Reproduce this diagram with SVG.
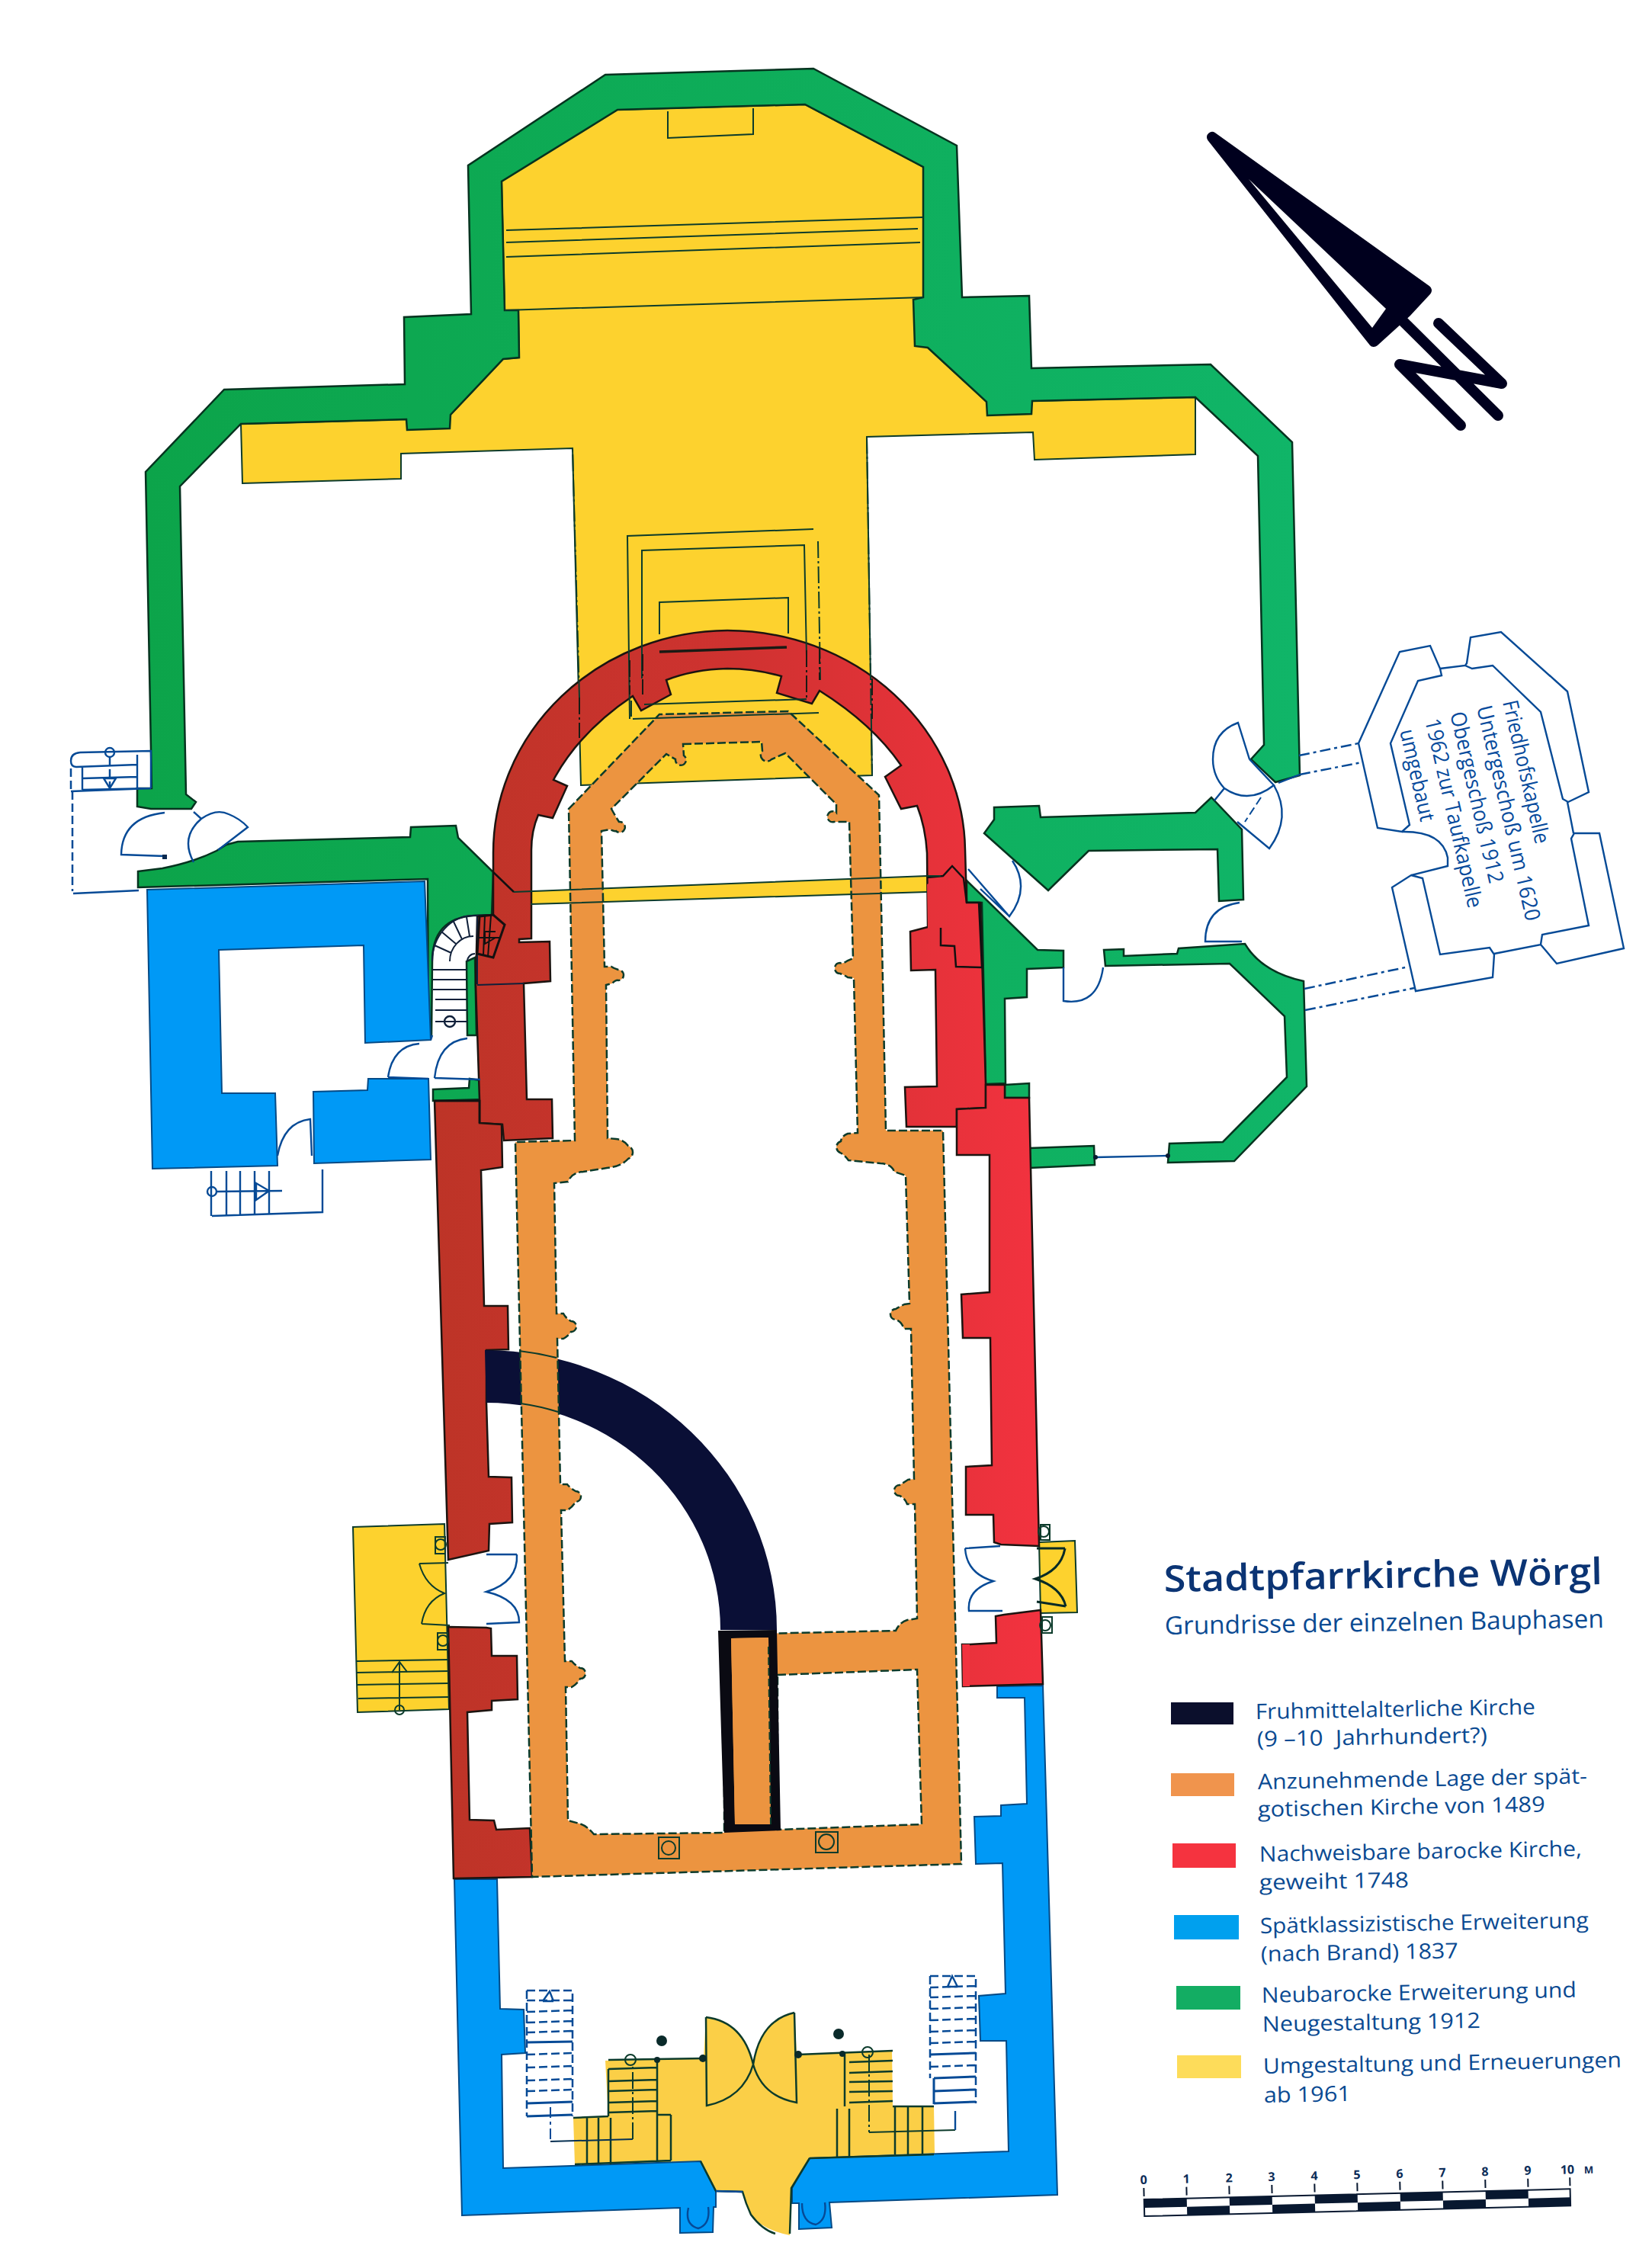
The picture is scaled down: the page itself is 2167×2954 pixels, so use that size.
<svg xmlns="http://www.w3.org/2000/svg" width="2167" height="2954" viewBox="0 0 2167 2954">
<style>
.k{fill:none;stroke:#0c3b2b;stroke-width:2}
.kd{fill:none;stroke:#0c3b2b;stroke-width:2;stroke-dasharray:22 4 3 4}
.kb{fill:none;stroke:#062a26;stroke-width:3}
.b{fill:none;stroke:#064a96;stroke-width:2.4}
.bd{fill:none;stroke:#064a96;stroke-width:2.5;stroke-dasharray:11 5}
.bdd{fill:none;stroke:#064a96;stroke-width:2.5;stroke-dasharray:14 5 4 5}
.wall-y{fill:#fdd22e;stroke:#0c3b2b;stroke-width:2}
.wall-g{fill:url(#gg);stroke:#06331f;stroke-width:2.5}
.wall-r{fill:url(#gr);stroke:#1c1410;stroke-width:2.5}
.wall-b{fill:#0099f6;stroke:#034a86;stroke-width:2}
.t{font-family:"Open Sans","Noto Sans",sans-serif;fill:#0a4a92;font-size:28px}
.c{font-family:"Open Sans","Noto Sans",sans-serif;fill:#064a9c;font-size:28px}
.n{font-family:"Open Sans","Noto Sans",sans-serif;fill:#0b2c58;font-size:16px;font-weight:700;text-anchor:middle}
</style>
<defs>
<linearGradient id="gr" gradientUnits="userSpaceOnUse" x1="570" y1="0" x2="1360" y2="0"><stop offset="0" stop-color="#bd3427"/><stop offset="0.5" stop-color="#cf3230"/><stop offset="1" stop-color="#f2323f"/></linearGradient>
<linearGradient id="gg" gradientUnits="userSpaceOnUse" x1="190" y1="0" x2="1700" y2="0"><stop offset="0" stop-color="#0ca44a"/><stop offset="1" stop-color="#10b568"/></linearGradient>
</defs>
<rect width="2167" height="2954" fill="#fff"/>

<g id="phase-1961-yellow">
<path class="wall-y" d="M316 556L318 634L526 628L526 595L751 588L762 1030L1144 1017L1137 573L1355 567L1357 603L1568 596L1568 521L1354 526L1294 527L1217 456L1211 219L1056 137L810 144L658 238L662 407L680 407L681 469L660 471L591 544L533 550Z"/>
<path d="M696 1169L1234 1149L1216 1170L696 1186Z" fill="#fdd22e"/>
<path class="wall-y" d="M463 2003L583 1999L589 2242L469 2246Z"/>
<path d="M1363 2023L1410 2021L1413 2115L1365 2116Z" class="wall-y" fill="#fbd050"/>
<path d="M923 2700L926 2646Q975 2652 988 2708Q997 2650 1042 2640L1045 2695L1108 2693L1170 2690L1171 2763L1225 2763L1226 2826L1062 2831L1038 2870L1036 2932Q1000 2925 985 2905Q978 2890 974 2875L939 2874L919 2835L754 2839L752 2778L798 2776L794 2703Z" fill="#fbcf47"/>
</g>

<g id="phase-1912-green">
<path class="wall-g" d="M199 1034L180 1034L180 1058L198 1061L251 1061L257 1052L244 1042L236 638L316 556L533 550L534 564L590 562L591 544L660 471L681 469L680 407L662 407L658 238L810 144L1056 137L1211 219L1211 390L1198 393L1200 454L1217 456L1294 527L1295 545L1353 543L1354 526L1568 521L1650 598L1658 977L1641 996L1673 1026L1705 1017L1695 580L1588 478L1353 483L1350 388L1262 390L1255 191L1067 90L794 98L614 217L618 412L530 416L531 504L294 511L191 619Z"/>
<path class="wall-g" d="M181 1143L213 1139Q254 1131 284 1116L297 1108L312 1104L538 1098L539 1085L598 1083L601 1099L647 1144L645 1200L621 1201Q567 1205 567 1261L566 1358L562 1358L561 1153L181 1164Z"/>
<path class="wall-g" d="M612 1261L613 1358L625 1358L623 1256Z"/>
<path class="wall-g" d="M568 1429L615 1427L616 1415L630 1417L634 1442L568 1444Z"/>
<path class="wall-g" d="M1304 1059L1363 1057L1365 1072L1568 1066L1589 1046L1629 1088L1631 1180L1599 1182L1597 1114L1428 1116L1375 1168L1291 1093L1304 1075Z"/>
<path class="wall-g" d="M1268 1155L1361 1246L1395 1247L1395 1269L1347 1271L1347 1308L1318 1310L1319 1421L1293 1422L1288 1184L1268 1184Z"/>
<path class="wall-g" d="M1448 1246L1474 1245L1474 1254L1544 1251L1546 1244L1633 1238Q1655 1275 1710 1287L1714 1425L1619 1523L1532 1525L1534 1500L1604 1498L1688 1413L1685 1333L1613 1264L1450 1267Z"/>
<path class="wall-g" d="M1350 1506L1435 1503L1436 1528L1351 1532Z"/>
<path class="wall-g" d="M1318 1423L1350 1421L1350 1440L1318 1440Z"/>
</g>

<g id="phase-1837-blue">
<path class="wall-b" d="M193 1167L557 1156L565 1364L479 1368L477 1240L287 1246L291 1434L361 1434L364 1529L200 1533Z"/>
<path class="wall-b" d="M411 1432L482 1430L483 1415L562 1415L565 1521L412 1526Z"/>
<path class="wall-b" d="M596 2465L652 2465L656 2635L687 2636L689 2693L658 2695L660 2844L919 2835L939 2874L939 2895L936 2895L935 2928L892 2929L892 2896L606 2906Z"/>
<path class="wall-b" d="M1308 2212L1308 2227L1344 2227L1347 2366L1313 2368L1313 2382L1278 2383L1280 2445L1315 2444L1319 2615L1284 2618L1286 2677L1320 2677L1323 2822L1062 2831L1039 2870L1039 2890L1048 2890L1048 2924L1091 2922L1088 2889L1387 2879L1368 2211Z"/>
</g>

<g id="phase-1748-red">
<path class="wall-r" d="M629 1473L629 1442L624 1292L626 1202L647 1200L647 1119A309 292 0 0 1 954 827A312 292 0 0 1 1266 1115L1268 1184L1286 1184L1293 1423L1293 1453L1255 1455L1255 1478L1189 1478L1187 1426L1229 1425L1227 1272L1195 1273L1194 1222L1217 1216L1216 1119Q1214 1085 1203 1057L1182 1061L1161 1019L1182 1004Q1145 950 1075 906L1065 923L1019 909L1025 887Q990 877 954 877Q910 878 874 892L880 911L841 932L830 913Q760 960 726 1023L744 1031L725 1073L706 1069Q697 1090 697 1115L697 1231L681 1232L681 1236L721 1235L722 1287L687 1290L691 1442L724 1442L725 1493L661 1496L659 1475Z"/>
<path class="wall-r" d="M570 1444L629 1444L629 1473L658 1475L659 1531L631 1535L635 1713L666 1713L667 1770L638 1771L638 1840L641 1937L671 1938L672 1997L642 1999L641 2034L588 2046L570 1444Z"/>
<path class="wall-r" d="M588 2134L638 2135L644 2136L645 2172L678 2172L679 2229L645 2231L645 2243L613 2246L616 2387L648 2388L651 2400L695 2398L698 2462L595 2464Z"/>
<path class="wall-r" d="M1293 1423L1318 1423L1318 1440L1350 1440L1363 2028L1313 2026L1304 2023L1303 1987L1267 1987L1267 1924L1301 1922L1299 1755L1263 1755L1261 1698L1298 1695L1298 1515L1255 1515L1255 1455L1293 1453Z"/>
<path class="wall-r" d="M1306 2120L1317 2118L1365 2112L1368 2209L1263 2212L1262 2157L1272 2157L1307 2155Z"/>
<path d="M1262 2157L1272 2157L1272 2212L1263 2212Z" fill="#f2323f"/>
<path d="M1216 1160L1237 1149L1249 1136L1266 1152L1266 1184L1284 1184L1288 1269L1254 1268L1252 1241L1234 1240L1234 1217L1217 1218Z" fill="url(#gr)"/>
<path class="k" style="stroke:#111;stroke-width:2.5" d="M1216 1151L1237 1149L1249 1136L1264 1152L1268 1184L1284 1184L1288 1269L1254 1268L1252 1241L1234 1240L1234 1217M674 1170L647 1144M629 1473L629 1444L570 1444"/>
</g>

<g id="phase-early-black">
<path d="M636 1771A383 367 0 0 1 1019 2138L945 2138A307 298 0 0 0 638 1840Z" fill="#0a0f36"/>
</g>

<g id="phase-1489-orange">
<path fill="#ec9440" fill-rule="evenodd" stroke="#0c3b2b" stroke-width="2.5" stroke-dasharray="11 4" d="M746 1061L865 937L1034 933L1153 1043L1162 1483L1237 1483L1261 2445L698 2462L676 1498L754 1496Z
M896 976L999 973L1000 985A7 7 0 1 0 1012 996L1030 988L1097 1055L1097 1066A7 7 0 1 0 1094 1078L1114 1078L1119 1257L1112 1260Q1105 1265 1102 1263A7 7 0 1 0 1102 1277Q1108 1279 1112 1282L1120 1283L1125 1486L1112 1487Q1104 1490 1103 1497A8 8 0 0 0 1102 1512Q1108 1515 1113 1522L1155 1526Q1170 1527 1173 1537L1188 1542L1193 1710L1186 1711Q1180 1714 1175 1717A7 7 0 1 0 1175 1731Q1182 1733 1186 1743L1195 1743L1199 1940L1191 1941Q1185 1945 1180 1948A7 7 0 1 0 1180 1962Q1187 1965 1190 1973L1200 1973L1203 2123L1190 2125Q1180 2128 1175 2139L950 2144L950 2404L779 2406Q770 2395 760 2392L745 2388L742 2213L750 2213Q757 2209 761 2202A7 7 0 1 0 761 2188Q754 2184 750 2179L741 2179L736 1981L744 1981Q751 1977 755 1970A7 7 0 1 0 755 1956Q748 1952 744 1947L735 1947L731 1756L739 1756Q746 1752 749 1747A7 7 0 1 0 749 1733Q742 1729 739 1723L730 1723L727 1552L745 1550Q750 1538 765 1537L796 1532Q815 1530 824 1520A9 9 0 0 0 824 1503Q818 1495 808 1494L797 1493L795 1292L803 1290Q808 1285 811 1286A7 7 0 1 0 811 1272Q805 1270 802 1268L793 1268L789 1090L800 1088Q806 1091 808 1090A7 7 0 1 0 812 1078Q808 1072 802 1061L874 989L886 996A7 7 0 1 0 897 991Z
M1020 2197L1203 2190L1209 2393L1020 2400Z"/>
</g>

<g id="phase-early-black-wall">
<path fill="#0a0a12" fill-rule="evenodd" d="M942 2139L1019 2138L1024 2401L950 2404ZM959 2149L1008 2148L1011 2393L964 2393Z"/>
<path fill="#ec9440" d="M959 2149L1008 2148L1011 2393L964 2393Z"/>
<path class="k" d="M681 1772A383 367 0 0 1 730 1781M683 1841A307 298 0 0 1 732 1852"/>
<path d="M1008 2160L1011 2393" class="k" stroke-dasharray="10 4"/>
</g>

<g id="details-yellow">
<path class="k" d="M664 302L1211 285M664 318L1204 300M664 337L1207 318M662 407L1211 390"/>
<path class="k" d="M876 146L876 181L988 176L988 142"/>
<path class="k" d="M826 943L823 703L1067 694M842 890L842 722L1055 715L1058 860M865 832L865 790L1034 784L1034 831"/>
<path class="kd" d="M1073 710L1076 892M1137 573L1144 1017M760 915L751 588"/>
<path class="k" d="M845 924L1058 917M830 943L1074 935M828 919L828 940"/>
<path class="k" style="stroke-width:3.5;stroke:#1a1a14" d="M865 855L1032 849"/>
<path class="kd" style="stroke:#1a1a14" d="M826 866L826 911M843 858L843 911M1058 853L1058 919M1075 849L1075 892M760 915L760 968M1144 890L1144 943"/>
<path class="k" d="M674 1170L1216 1149M696 1186L1216 1170M1216 1149L1234 1149"/>
<path class="k" d="M550 2051Q558 2080 583 2090Q558 2100 553 2130M550 2051L588 2050M553 2130L590 2132M468 2179L588 2177M468 2194L588 2192M468 2210L588 2208M470 2228L589 2226M524 2182L524 2243"/>
<path class="k" d="M514 2194L524 2180L534 2193"/>
<circle class="k" cx="524" cy="2243" r="6"/>
<g class="k"><rect x="571" y="2016" width="13" height="22"/><circle cx="578" cy="2026" r="7"/><rect x="574" y="2142" width="13" height="22"/><circle cx="581" cy="2152" r="7"/>
<rect x="1365" y="2000" width="12" height="20"/><circle cx="1369" cy="2009" r="7"/><rect x="1367" y="2121" width="13" height="21"/><circle cx="1371" cy="2132" r="7"/></g>
<path class="kb" d="M1397 2031Q1392 2060 1358 2071Q1392 2082 1398 2107M1360 2031L1397 2031M1360 2101L1398 2107"/>
<path class="b" d="M678 2039L638 2039M678 2039Q680 2075 638 2088Q681 2098 681 2128L638 2130"/>
<path class="b" d="M1266 2031L1312 2028M1266 2031Q1268 2064 1303 2074Q1268 2085 1271 2113L1315 2113"/>
<g class="k"><rect x="864" y="2410" width="27" height="28"/><circle cx="877" cy="2424" r="9"/><rect x="1070" y="2403" width="29" height="27"/><circle cx="1084" cy="2416" r="10"/></g>
</g>

<g id="details-south">
<g class="k" style="stroke-width:2.5">
<path d="M926 2646Q975 2652 988 2708Q975 2752 927 2762L926 2646M1042 2640Q997 2650 988 2708Q1000 2750 1045 2758L1042 2640"/>
<path d="M798 2702L923 2700M1047 2695L1171 2690M1108 2692L1108 2763M1098 2766L1098 2829M1114 2766L1114 2829M1174 2763L1174 2826M1191 2763L1191 2826M1210 2763L1210 2826M1171 2763L1225 2763"/>
<path d="M798 2714L862 2712M798 2730L862 2728M798 2743L862 2741M798 2758L862 2756M798 2771L862 2769M862 2702L862 2836M880 2774L880 2834M862 2774L880 2774M752 2778L798 2776M798 2714L798 2776M770 2778L770 2839M785 2778L785 2839M801 2778L801 2839M754 2839L880 2834"/>
<path d="M1114 2705L1171 2703M1114 2719L1171 2717M1114 2731L1171 2730M1114 2744L1171 2743M1114 2758L1171 2756"/>
<path d="M919 2835L939 2874L974 2875Q978 2890 985 2905Q1000 2925 1017 2930M1062 2831L1038 2870L1036 2930M1062 2831L1225 2826"/>
</g>
<circle cx="868" cy="2677" r="7" fill="#0a2a2a"/><circle cx="1100" cy="2668" r="7" fill="#0a2a2a"/>
<circle cx="862" cy="2702" r="4" fill="#0a2a2a"/><circle cx="922" cy="2700" r="5" fill="#0a2a2a"/><circle cx="1047" cy="2695" r="5" fill="#0a2a2a"/><circle cx="1105" cy="2694" r="4" fill="#0a2a2a"/>
<circle class="k" cx="827" cy="2702" r="7"/><circle class="k" cx="1138" cy="2692" r="7"/>
<path class="bd" d="M691 2611L751 2611L751 2776M691 2611L691 2776M691 2624L751 2624M691 2639L751 2637M691 2653L751 2651M691 2666L751 2664M691 2695L751 2693M691 2712L751 2710M691 2729L751 2727M691 2743L751 2741"/>
<path class="b" style="stroke-width:3" d="M691 2679L751 2678M691 2759L751 2757M691 2776L751 2774"/>
<path class="b" d="M712 2625L721 2612L726 2625M712 2625L726 2625"/>
<path class="bd" d="M1220 2592L1280 2592L1280 2759M1220 2592L1220 2726M1220 2607L1280 2605M1220 2620L1280 2618M1220 2635L1280 2633M1220 2650L1280 2648M1220 2665L1280 2663M1220 2680L1280 2678M1220 2711L1280 2709"/>
<path class="b" style="stroke-width:3" d="M1220 2695L1280 2693M1225 2726L1280 2724M1225 2743L1280 2741M1225 2759L1280 2757M1225 2726L1225 2760"/>
<path class="b" d="M1243 2606L1249 2592L1256 2606M1243 2606L1256 2606"/>
<path class="bdd" style="stroke-width:2" d="M722 2764L722 2809"/>
<path class="k" style="stroke:#063052" d="M722 2809L830 2806"/>
<path class="kd" d="M830 2806L830 2708M1140 2695L1140 2797"/>
<path class="k" d="M1140 2797L1253 2794"/>
<path class="b" d="M1253 2769L1253 2794"/>
<path class="b" d="M903 2896Q898 2918 916 2923Q932 2918 929 2895M1052 2890Q1052 2915 1070 2918Q1085 2912 1082 2889"/>
<path class="b" d="M939 2874L974 2875"/>
</g>

<g id="details-nw-stairs">
<path class="b" d="M105 987L198 985L198 1034M105 987Q93 988 93 998Q93 1006 100 1006L180 1003M108 1021L180 1019M108 1036L198 1034M93 1038L198 1034M180 990L180 1034M108 1006L108 1036"/>
<path class="bd" d="M93 1008L93 1038M95 1038L95 1169"/>
<path class="b" d="M96 1172L182 1168"/>
<path class="bd" d="M144 993L144 1033"/>
<circle class="b" cx="144" cy="987" r="6"/>
<path class="b" d="M136 1021L152 1021L144 1034Z"/>
<path class="b" d="M216 1066Q160 1072 159 1121L216 1123"/>
<rect x="213" y="1121" width="6" height="6" fill="#0a2a50"/>
<path class="b" d="M254 1065L264 1074M264 1074Q284 1060 300 1068Q315 1074 325 1085L286 1115M264 1074Q236 1098 254 1131"/>
<path class="b" d="M565 1364L567 1358"/>
<path class="b" d="M509 1413Q515 1372 550 1369M509 1413L562 1415M570 1414Q575 1366 613 1362M570 1414L630 1416"/>
<path class="b" d="M364 1516Q372 1472 407 1468L409 1516"/>
<path class="b" d="M277 1536L277 1595M297 1536L297 1594M315 1536L315 1594M334 1536L334 1593M353 1536L353 1593M278 1595L423 1590L423 1534"/>
<path class="b" d="M284 1563L370 1562M336 1552L336 1574L353 1562Z"/>
<circle class="b" cx="278" cy="1563" r="6"/>
</g>

<g id="details-spiral">
<path class="k" style="stroke:#10203a" d="M567 1261A54 60 0 0 1 621 1201L647 1200M590 1261A31 33 0 0 1 621 1228M613 1261A10 10 0 0 1 623 1251M570 1240L592 1250M579 1222L598 1238M595 1209L606 1232M612 1203L616 1228M567 1272L613 1272M568 1285L613 1285M568 1298L613 1298M571 1311L613 1311M571 1325L613 1325M571 1340L613 1340M626 1203L626 1291M626 1292L687 1290"/>
<path d="M629 1202L647 1200L662 1213L647 1256L626 1251Z" fill="#c43328" stroke="#151010" stroke-width="3"/>
<path class="k" style="stroke:#111" d="M636 1201L634 1253M644 1201L640 1255M628 1230L655 1230M650 1222L636 1222L636 1238L650 1230"/>
<circle class="b" style="stroke:#10203a" cx="590" cy="1340" r="7"/>
</g>

<g id="details-east">
<path class="b" d="M1328 1129Q1352 1165 1324 1202L1270 1140M1286 1166L1324 1202"/>
<path class="b" d="M1395 1269L1395 1313Q1440 1320 1447 1269"/>
<path class="b" d="M1626 1184Q1581 1190 1581 1235L1629 1235"/>
<path class="b" d="M1639 996L1624 948Q1591 960 1591 996Q1591 1018 1606 1034Q1638 1056 1671 1030L1639 996M1606 1034L1593 1050"/>
<path class="b" d="M1671 1030Q1695 1072 1665 1113L1623 1078"/>
<path class="bd" style="stroke-width:2" d="M1654 1046L1633 1078"/>
<path class="b" d="M1677 1027L1705 1016"/>
<path class="bdd" d="M1704 991L1782 975M1705 1016L1786 1000M1711 1297L1848 1268M1712 1325L1855 1296"/>
<path class="b" d="M1437 1518L1532 1516"/>
<circle cx="1437" cy="1518" r="3" fill="#0a1a30"/><circle cx="1532" cy="1516" r="3" fill="#0a1a30"/>
</g>

<g id="chapel">
<path class="b" d="M1782 975L1836 855L1876 847L1889 877L1891 886L1860 893L1824 975L1849 1082L1839 1091L1807 1086L1782 975Z"/>
<path class="b" d="M1889 877L1922 873L1924 870L1929 836L1969 829L2056 907L2084 1039L2057 1052L2050 1048L2021 934L1958 873L1931 877L1922 873"/>
<path class="b" d="M1839 1091Q1892 1090 1899 1125L1899 1136L1851 1148L1826 1164L1857 1300L1958 1282L1960 1252L1954 1243L1889 1252L1866 1152L1851 1148"/>
<path class="b" d="M1960 1251L2021 1239L2042 1264L2130 1244L2098 1093L2065 1093L2061 1100L2084 1214L2023 1226L2021 1239M2056 1052L2064 1093"/>
<text class="c" transform="translate(1971 921) rotate(77)" textLength="192" lengthAdjust="spacingAndGlyphs">Friedhofskapelle</text>
<text class="c" transform="translate(1937 928) rotate(77)" textLength="289" lengthAdjust="spacingAndGlyphs">Untergeschoß um 1620</text>
<text class="c" transform="translate(1902 936) rotate(77)" textLength="230" lengthAdjust="spacingAndGlyphs">Obergeschoß 1912</text>
<text class="c" transform="translate(1869 945) rotate(77)" textLength="254" lengthAdjust="spacingAndGlyphs">1962 zur Taufkapelle</text>
<text class="c" transform="translate(1836 959) rotate(77)" textLength="123" lengthAdjust="spacingAndGlyphs">umgebaut</text>
</g>

<g id="north-arrow">
<path fill="#00001e" fill-rule="evenodd" stroke="#00001e" stroke-width="14" stroke-linejoin="round" d="M1590 180L1871 381L1845 409L1802 448Z"/>
<path fill="#fff" d="M1638 235L1818 405L1800 430Z"/>
<path fill="none" stroke="#00001e" stroke-width="14" stroke-linecap="round" stroke-linejoin="round" d="M1836 417L1965 545M1887 424L1970 503L1836 478L1916 558"/>
</g>

<g id="legend">
<g class="t">
<text x="1527" y="2088" transform="rotate(-1 1527 2088)" style="font-size:48px;font-weight:600;fill:#0b3474" textLength="575" lengthAdjust="spacingAndGlyphs">Stadtpfarrkirche Wörgl</text>
<text x="1528" y="2144" transform="rotate(-0.9 1528 2144)" style="font-size:33px" textLength="576" lengthAdjust="spacingAndGlyphs">Grundrisse der einzelnen Bauphasen</text>
<text x="1647" y="2255" transform="rotate(-1 1647 2255)" textLength="367" lengthAdjust="spacingAndGlyphs">Fruhmittelalterliche Kirche</text>
<text x="1649" y="2291" transform="rotate(-1 1649 2291)" textLength="302" lengthAdjust="spacingAndGlyphs" xml:space="preserve">(9 –10  Jahrhundert?)</text>
<text x="1650" y="2347" transform="rotate(-1 1650 2347)" textLength="432" lengthAdjust="spacingAndGlyphs">Anzunehmende Lage der spät-</text>
<text x="1650" y="2383" transform="rotate(-1 1650 2383)" textLength="377" lengthAdjust="spacingAndGlyphs">gotischen Kirche von 1489</text>
<text x="1652" y="2442" transform="rotate(-1 1652 2442)" textLength="423" lengthAdjust="spacingAndGlyphs">Nachweisbare barocke Kirche,</text>
<text x="1652" y="2479" transform="rotate(-1 1652 2479)" textLength="196" lengthAdjust="spacingAndGlyphs">geweiht 1748</text>
<text x="1653" y="2536" transform="rotate(-1 1653 2536)" textLength="431" lengthAdjust="spacingAndGlyphs">Spätklassizistische Erweiterung</text>
<text x="1654" y="2573" transform="rotate(-1 1654 2573)" textLength="259" lengthAdjust="spacingAndGlyphs">(nach Brand) 1837</text>
<text x="1655" y="2627" transform="rotate(-1 1655 2627)" textLength="413" lengthAdjust="spacingAndGlyphs">Neubarocke Erweiterung und</text>
<text x="1656" y="2665" transform="rotate(-1 1656 2665)" textLength="286" lengthAdjust="spacingAndGlyphs">Neugestaltung 1912</text>
<text x="1657" y="2720" transform="rotate(-1 1657 2720)" textLength="470" lengthAdjust="spacingAndGlyphs">Umgestaltung und Erneuerungen</text>
<text x="1658" y="2758" transform="rotate(-1 1658 2758)" textLength="114" lengthAdjust="spacingAndGlyphs">ab 1961</text>
</g>
<rect x="1536" y="2233" width="82" height="29" fill="#0b0f2c"/>
<rect x="1536" y="2326" width="83" height="30" fill="#f0944d"/>
<rect x="1538" y="2418" width="83" height="32" fill="#f5333f"/>
<rect x="1540" y="2512" width="85" height="32" fill="#00a0ee"/>
<rect x="1543" y="2605" width="84" height="31" fill="#13ad63"/>
<rect x="1544" y="2696" width="84" height="30" fill="#fddc5a"/>
</g>

<g id="scale" transform="rotate(-1.4 1501 2896)">
<rect x="1501" y="2885" width="559" height="22" fill="#fff" stroke="#081830" stroke-width="2"/>
<path fill="#081830" d="M1501 2885h56v11h-56zM1557 2896h56v11h-56zM1613 2885h56v11h-56zM1669 2896h56v11h-56zM1725 2885h56v11h-56zM1781 2896h56v11h-56zM1837 2885h56v11h-56zM1893 2896h56v11h-56zM1949 2885h56v11h-56zM2005 2896h55v11h-55z"/>
<path fill="none" stroke="#081830" stroke-width="2" d="M1501 2870v11M1557 2870v11M1613 2870v11M1669 2870v11M1725 2870v11M1781 2870v11M1837 2870v11M1893 2870v11M1949 2870v11M2005 2870v11M2060 2870v11"/>
<text class="n" x="1501" y="2865">0</text><text class="n" x="1557" y="2865">1</text><text class="n" x="1613" y="2865">2</text><text class="n" x="1669" y="2865">3</text><text class="n" x="1725" y="2865">4</text><text class="n" x="1781" y="2865">5</text><text class="n" x="1837" y="2865">6</text><text class="n" x="1893" y="2865">7</text><text class="n" x="1949" y="2865">8</text><text class="n" x="2005" y="2865">9</text><text class="n" x="2057" y="2865">10</text><text class="n" x="2085" y="2865" style="font-size:13px">M</text>
</g>
</svg>
